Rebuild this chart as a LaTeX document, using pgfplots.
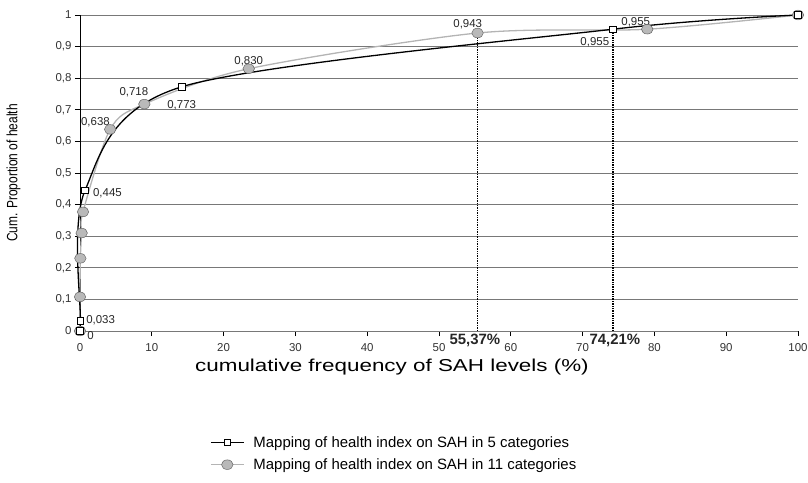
\documentclass[border=0pt]{standalone}
\usepackage{fontspec}
\setmainfont{Liberation Sans}
\newfontfamily\narrowfont[FakeStretch=0.8]{Liberation Sans}
\newfontfamily\widefont[FakeStretch=1.3]{Liberation Sans}
\usepackage{pgfplots}
\pgfplotsset{compat=1.18}
\usetikzlibrary{calc}

\definecolor{linegray}{RGB}{180,180,180}
\definecolor{markgray}{RGB}{185,185,185}
\definecolor{gridgray}{RGB}{120,120,120}

\tikzset{
  lbl/.style={font=\fontsize{11.5}{13}\selectfont, inner sep=0pt, text=black!85},
  pct/.style={font=\bfseries\fontsize{15}{17}\selectfont, inner sep=0pt, text=black!85},
}

\begin{document}
\begin{tikzpicture}
\begin{axis}[
  scale only axis,
  width=718bp, height=316bp,
  xmin=0, xmax=100, ymin=0, ymax=1,
  axis x line*=bottom, axis y line*=left,
  axis line style={-, line width=0.9bp},
  x axis line style={gridgray},
  xtick={0,10,20,30,40,50,60,70,80,90,100},
  ytick={0,0.1,0.2,0.3,0.4,0.5,0.6,0.7,0.8,0.9,1},
  tick align=outside, major tick length=5bp,
  tick style={black, line width=0.8bp},
  ymajorgrids,
  major grid style={gridgray, line width=0.9bp},
  ticklabel style={font=\fontsize{11.5}{13}\selectfont, text=black!80},
  xticklabel style={yshift=-4bp},
  /pgf/number format/assume math mode=true,
  yticklabel style={/pgf/number format/.cd, use comma, fixed, precision=1},
  xlabel={\widefont\fontsize{17.3}{20}\selectfont cumulative frequency of SAH levels (\%)},
  xlabel style={at={(axis description cs:0.4345,0)}, anchor=north, yshift=-24bp},
  ylabel={\narrowfont\fontsize{15}{17}\selectfont Cum. Proportion of health},
  ylabel style={at={(axis description cs:0,0.5)}, anchor=south, yshift=56bp},
  clip=false,
  reverse legend,
  legend cell align=left,
  legend style={at={(0.181,-0.326)}, anchor=north west, draw=none, fill=none,
    font=\fontsize{15}{18}\selectfont, inner sep=0pt,
    row sep=6bp},
  legend image code/.code={\draw[mark repeat=2,mark phase=2,#1]
    plot coordinates {(0bp,0bp) (16.5bp,0bp) (33bp,0bp)};
    \path (40bp,0bp);},
]
% dotted reference lines
\addplot[forget plot, black, densely dotted, line width=1.4bp]
  coordinates {(55.37,0) (55.37,0.943)};
\addplot[forget plot, black, densely dotted, line width=1.4bp]
  coordinates {(74.21,0) (74.21,0.955)};

% 11 categories
\addplot[smooth, linegray, line width=1.3bp,
  mark=*, mark size=4.8bp,
  mark options={fill=markgray, draw=black!60, line width=0.5bp, xscale=1.2}]
  coordinates {
  (0,0) (0,0.108) (0.05,0.23) (0.23,0.31) (0.42,0.377) (4.2,0.638)
  (8.96,0.718) (23.5,0.830) (55.37,0.943) (79.0,0.955) (100,1)
  };
\addlegendentry{Mapping of health index on SAH in 11 categories}

% 5 categories
\addplot[smooth, black, line width=1.3bp,
  mark=square*, mark size=3.4bp,
  mark options={fill=white, draw=black, line width=0.6bp}]
  coordinates {
  (0,0) (0.05,0.033) (0.7,0.445) (14.2,0.773) (74.21,0.955) (100,1)
  };
\addlegendentry{Mapping of health index on SAH in 5 categories}

% data labels
\node[lbl, anchor=west] at (axis cs:0.85,0.033) {0,033};
\node[lbl, anchor=west] at (axis cs:1.0,-0.014) {0};
\node[lbl, anchor=west] at (axis cs:1.8,0.437) {0,445};
\node[lbl] at (axis cs:2.15,0.662) {0,638};
\node[lbl] at (axis cs:7.5,0.757) {0,718};
\node[lbl] at (axis cs:14.16,0.715) {0,773};
\node[lbl] at (axis cs:23.5,0.854) {0,830};
\node[lbl] at (axis cs:54.0,0.9706) {0,943};
\node[lbl] at (axis cs:71.7,0.9136) {0,955};
\node[lbl] at (axis cs:77.4,0.9757) {0,955};

\node[pct] at (axis cs:55.0,-0.0285) {55,37\%};
\node[pct] at (axis cs:74.5,-0.0285) {74,21\%};

\coordinate (sw) at (rel axis cs:0,0);
\end{axis}
\pgfresetboundingbox
\path[use as bounding box] ($(sw)+(-80bp,-152bp)$)
  rectangle ($(sw)+(728bp,316bp+15bp)$);
\end{tikzpicture}
\end{document}
